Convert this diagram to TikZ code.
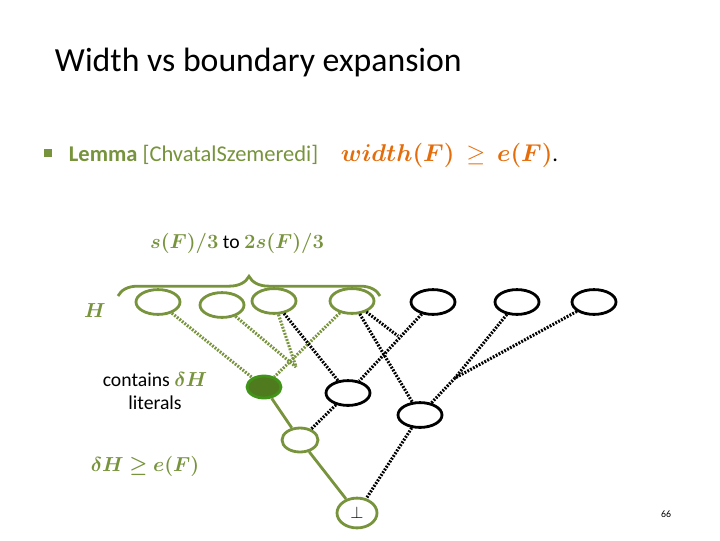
\documentclass[tikz,border=0pt]{standalone}
\usepackage{amssymb,amsmath,bm}
\usepackage{fontspec}
\setmainfont{Carlito}
\usetikzlibrary{shapes.geometric,decorations.pathreplacing}
\definecolor{olive}{RGB}{119,147,60}
\definecolor{leaf}{RGB}{80,122,30}
\definecolor{amber}{RGB}{228,108,10}
\begin{document}
\begin{tikzpicture}[
            x = 0.025cm, y = -0.025cm, % pixel grid
            gnode/.style = {ellipse, draw=olive, line width=2pt, minimum width=1.1cm, minimum height=0.62cm},
            bnode/.style = {ellipse, draw=black, line width=2pt, minimum width=1.1cm, minimum height=0.62cm},
            gdot/.style = {olive, line width=2.2pt, dash pattern=on 1.3pt off 1pt},
            bdot/.style = {black, line width=2.2pt, dash pattern=on 1.3pt off 1pt},
            gline/.style = {olive, line width=2pt}
        ]
\useasboundingbox (0,0) rectangle (720,540);
\node[anchor=west, font=\fontsize{24}{28}\selectfont] (title) at (50,63) {Width vs boundary expansion};
\node[fill=olive, minimum size=5pt, inner sep=0pt] (bullet) at (48,153) {};
\node[anchor=west, font=\fontsize{16}{19}\selectfont] (lemma) at (64,155)
  {\textcolor{olive}{\textbf{Lemma} [ChvatalSzemeredi]}\quad $\color{amber}\bm{width(F)}\ \geq\ \bm{e(F)}$.};

\node[gnode] (g1) at (158,302) {};
\node[gnode] (g2) at (222,305) {};
\node[gnode] (g3) at (274,301) {};
\node[gnode] (g4) at (352,301) {};
\node[bnode] (b1) at (433,302) {};
\node[bnode] (b2) at (517,302) {};
\node[bnode] (b3) at (594,302) {};
\node[ellipse, draw=leaf!80!green, fill=leaf, line width=2pt, minimum width=0.85cm, minimum height=0.55cm] (lit) at (264,387) {};
\node[bnode] (bm) at (348,393) {};
\node[bnode] (bl) at (420,415) {};
\node[gnode, minimum width=0.9cm, minimum height=0.6cm] (sg) at (300,440) {};
\node[gnode, minimum width=1cm, minimum height=0.6cm, font=\large] (bot) at (357,513) {$\perp$};

\coordinate (j) at (296,367);
\coordinate (m) at (398,336);
\coordinate (k) at (455,378);

\draw[gdot] (g1) -- (lit);
\draw[gdot] (g2) -- (j);
\draw[gdot] (g3) -- (j);
\draw[gdot] (g4) -- (lit);
\draw[bdot] (g3) -- (bm);
\draw[bdot] (b1) -- (bm);
\draw[bdot] (g4) -- (bl);
\draw[bdot] (g4) -- (m);
\draw[bdot] (b2) -- (k);
\draw[bdot] (b3) -- (k);
\draw[bdot] (k) -- (bl);
\draw[bdot] (bm) -- (sg);
\draw[bdot] (bl) -- (bot);
\draw[gline] (lit) -- (sg);
\draw[gline] (sg) -- (bot);

\draw[olive, line width=2pt, decorate, decoration={brace, amplitude=14pt}] (118,296) -- (380,296);
\node[font=\fontsize{14}{17}\selectfont] (range) at (237,243) {$\color{olive}\bm{s(F)/3}$ to $\color{olive}\bm{2s(F)/3}$};
\node[font=\fontsize{14}{17}\selectfont, text=olive] (h) at (95,311) {$\bm{H}$};
\node[font=\fontsize{14}{17}\selectfont, align=center] (contains) at (155,391) {contains $\color{olive}\bm{\delta H}$\\literals};
\node[font=\fontsize{14}{17}\selectfont, text=olive] (ineq) at (145,466) {$\bm{\delta H \geq e(F)}$};
\node[font=\scriptsize] (page) at (666,514) {66};
\end{tikzpicture}
\end{document}
